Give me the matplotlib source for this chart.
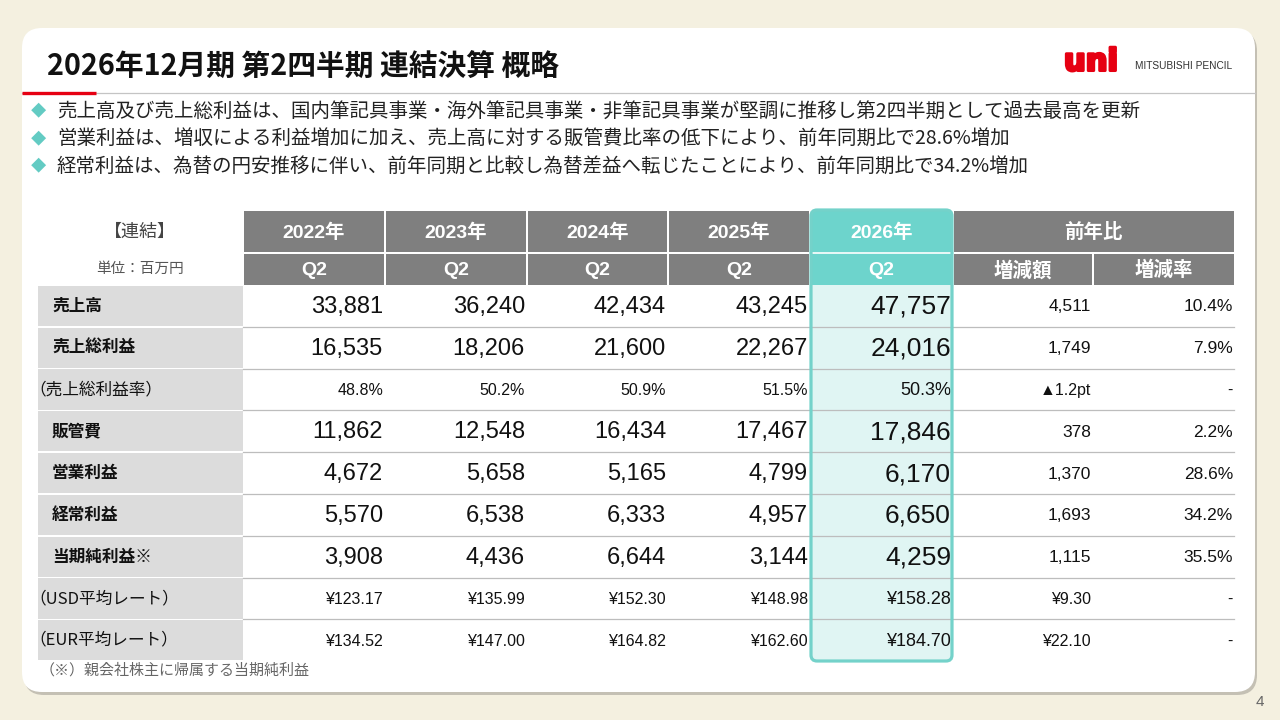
import matplotlib.pyplot as plt
import matplotlib.patheffects as pe
from matplotlib.patches import Rectangle, FancyBboxPatch

plt.rcParams['font.family'] = ['Noto Sans CJK JP', 'DejaVu Sans']
JP = ['Noto Sans CJK JP', 'DejaVu Sans']
NUM = ['Liberation Sans', 'Noto Sans CJK JP', 'DejaVu Sans']

# ---- データ ----
title = '2026年12月期 第2四半期 連結決算 概略'
bullets = [
    '売上高及び売上総利益は、国内筆記具事業・海外筆記具事業・非筆記具事業が堅調に推移し第2四半期として過去最高を更新',
    '営業利益は、増収による利益増加に加え、売上高に対する販管費比率の低下により、前年同期比で28.6%増加',
    '経常利益は、為替の円安推移に伴い、前年同期と比較し為替差益へ転じたことにより、前年同期比で34.2%増加',
]
years = ['2022年', '2023年', '2024年', '2025年', '2026年']
quarter = 'Q2'
row_labels = ['売上高', '売上総利益', '（売上総利益率）', '販管費', '営業利益',
              '経常利益', '当期純利益※', '（USD平均レート）', '（EUR平均レート）']
main_rows = [True, True, False, True, True, True, True, False, False]

uriage = [33881, 36240, 42434, 43245, 47757]
sourieki = [16535, 18206, 21600, 22267, 24016]
sourieki_ritsu = [48.8, 50.2, 50.9, 51.5, 50.3]
hankanhi = [11862, 12548, 16434, 17467, 17846]
eigyo = [4672, 5658, 5165, 4799, 6170]
keijo = [5570, 6538, 6333, 4957, 6650]
junrieki = [3908, 4436, 6644, 3144, 4259]
usd_rate = [123.17, 135.99, 152.30, 148.98, 158.28]
eur_rate = [134.52, 147.00, 164.82, 162.60, 184.70]

zougen_gaku = ['4,511', '1,749', '▲1.2pt', '378', '1,370', '1,693', '1,115', '¥9.30', '¥22.10']
zougen_ritsu = ['10.4%', '7.9%', '-', '2.2%', '28.6%', '34.2%', '35.5%', '-', '-']
footnote = '（※）親会社株主に帰属する当期純利益'


def f_int(v):
    return f'{v:,}'


def f_pct(v):
    return f'{v:.1f}%'


def f_yen(v):
    return f'¥{v:.2f}'


table_rows = [
    [f_int(v) for v in uriage],
    [f_int(v) for v in sourieki],
    [f_pct(v) for v in sourieki_ritsu],
    [f_int(v) for v in hankanhi],
    [f_int(v) for v in eigyo],
    [f_int(v) for v in keijo],
    [f_int(v) for v in junrieki],
    [f_yen(v) for v in usd_rate],
    [f_yen(v) for v in eur_rate],
]

# ---- 色 ----
bg = '#F4F0E0'
gray_head = '#7F7F7F'
gray_label = '#DCDCDC'
line_c = '#BDBDBD'
teal = '#6DD4CC'
teal_light = '#E0F5F3'
teal_border = '#74D2CA'
red = '#E60012'

fig = plt.figure(figsize=(12.8, 7.2), dpi=100, facecolor=bg)
ax = fig.add_axes([0, 0, 1, 1])
ax.set_xlim(0, 1280)
ax.set_ylim(720, 0)
ax.axis('off')

# カード
shadow = FancyBboxPatch((24, 31), 1233, 664, boxstyle='round,pad=0,rounding_size=20',
                        fc='#C4C0B4', ec='none', zorder=0)
ax.add_patch(shadow)
card = FancyBboxPatch((22, 28), 1233, 664, boxstyle='round,pad=0,rounding_size=20',
                      fc='white', ec='none', zorder=1)
ax.add_patch(card)

# タイトル
ax.text(47, 67, title, fontsize=20.7, fontweight='bold', color='#111111',
        va='center', ha='left', family=JP, zorder=3)
ax.plot([22, 1255], [92.5, 92.5], color='#C4C4C4', lw=0.9, zorder=3)
ax.plot([22, 96], [92.5, 92.5], color=red, lw=2.4, zorder=4, solid_capstyle='butt')

# ロゴ
ax.text(1064, 62, 'uni', fontsize=22, fontweight='heavy', color=red,
        va='center', ha='left', family='DejaVu Sans', zorder=3,
        path_effects=[pe.withStroke(linewidth=2.2, foreground=red)])
ax.text(1135, 66, 'MITSUBISHI PENCIL', fontsize=7.3, color='#333333',
        va='center', ha='left', family='Liberation Sans', zorder=3)

# 箇条書き
for i, b in enumerate(bullets):
    y = 111 + i * 27.5
    ax.text(38, y, '◆', fontsize=11, color='#63CBC3', va='center', ha='center',
            family=JP, zorder=3)
    ax.text(57, y, b, fontsize=14, color='#222222', va='center', ha='left',
            family=JP, zorder=3)

# ---- 表 ----
col_edges = [243, 385, 527, 668, 810, 953, 1093, 1234]
label_x0 = 38
h1_top, h1_bot = 211, 252
h2_top, h2_bot = 254, 285
row_top = 285
row_h = 41.8
hi = 4  # 2026年の列

# 見出し（左上）
ax.text(140, 232, '【連結】', fontsize=13, color='#444444', va='center', ha='center',
        family=JP, zorder=3)
ax.text(140, 269, '単位：百万円', fontsize=10.5, color='#555555', va='center', ha='center',
        family=JP, zorder=3)

# 年の見出し
for i, yr in enumerate(years):
    x0, x1 = col_edges[i], col_edges[i + 1]
    if i != hi:
        ax.add_patch(Rectangle((x0 + 0.8, h1_top), x1 - x0 - 1.6, h1_bot - h1_top,
                               fc=gray_head, ec='none', zorder=2))
        ax.add_patch(Rectangle((x0 + 0.8, h2_top), x1 - x0 - 1.6, h2_bot - h2_top,
                               fc=gray_head, ec='none', zorder=2))
    ax.text((x0 + x1) / 2, (h1_top + h1_bot) / 2 + 1, yr, fontsize=14, fontweight='bold',
            color='white', va='center', ha='center', family=NUM, zorder=6)
    ax.text((x0 + x1) / 2, (h2_top + h2_bot) / 2 + 1, quarter, fontsize=14, fontweight='bold',
            color='white', va='center', ha='center', family=NUM, zorder=6)

# 前年比の見出し
ax.add_patch(Rectangle((col_edges[5] + 0.8, h1_top), col_edges[7] - col_edges[5] - 0.8,
                       h1_bot - h1_top, fc=gray_head, ec='none', zorder=2))
ax.text((col_edges[5] + col_edges[7]) / 2, (h1_top + h1_bot) / 2 + 1, '前年比', fontsize=14,
        fontweight='bold', color='white', va='center', ha='center', family=JP, zorder=6)
for j, name in enumerate(['増減額', '増減率']):
    x0, x1 = col_edges[5 + j], col_edges[6 + j]
    ax.add_patch(Rectangle((x0 + 0.8, h2_top), x1 - x0 - 1.6 + 0.8 * j, h2_bot - h2_top,
                           fc=gray_head, ec='none', zorder=2))
    ax.text((x0 + x1) / 2, (h2_top + h2_bot) / 2 + 1, name, fontsize=14, fontweight='bold',
            color='white', va='center', ha='center', family=JP, zorder=6)

# 2026年の強調枠
bx0, bx1 = col_edges[hi], col_edges[hi + 1]
box_top, box_bot = 209, 662
body = FancyBboxPatch((bx0 + 1, box_top + 1), bx1 - bx0 - 2, box_bot - box_top - 2,
                      boxstyle='round,pad=0,rounding_size=6', fc=teal_light, ec='none', zorder=2)
ax.add_patch(body)
head = Rectangle((bx0, box_top), bx1 - bx0, h2_bot - box_top, fc=teal, ec='none', zorder=2.5)
ax.add_patch(head)
head.set_clip_path(body)
ax.plot([bx0 + 1, bx1 - 1], [253, 253], color='white', lw=1.2, zorder=2.6)

# 行
for r, lab in enumerate(row_labels):
    y0 = row_top + r * row_h
    yc = y0 + row_h / 2
    ax.add_patch(Rectangle((label_x0, y0 + 0.8), col_edges[0] - label_x0, row_h - 1.6,
                           fc=gray_label, ec='none', zorder=2))
    if r > 0:
        ax.plot([col_edges[0], col_edges[-1]], [y0, y0], color=line_c, lw=0.9, zorder=3)
    if main_rows[r]:
        ax.text(52, yc, lab, fontsize=12, fontweight='bold', color='#111111',
                va='center', ha='left', family=JP, zorder=4)
        big, big_hi, side = 17, 19, 12.5
    else:
        ax.text(29, yc, lab, fontsize=12, color='#111111',
                va='center', ha='left', family=JP, zorder=4)
        big, big_hi, side = 11.5, 13, 11.5
    for i, val in enumerate(table_rows[r]):
        ax.text(col_edges[i + 1] - 2, yc + 1, val, fontsize=big_hi if i == hi else big,
                color='#111111', va='center', ha='right', family=NUM, zorder=5)
    ax.text(col_edges[6] - 2, yc + 1, zougen_gaku[r], fontsize=side, color='#111111',
            va='center', ha='right', family=NUM, zorder=5)
    ax.text(col_edges[7] - 1, yc + 1, zougen_ritsu[r], fontsize=side, color='#111111',
            va='center', ha='right', family=NUM, zorder=5)

border = FancyBboxPatch((bx0 + 1, box_top + 1), bx1 - bx0 - 2, box_bot - box_top - 2,
                        boxstyle='round,pad=0,rounding_size=6', fc='none', ec=teal_border,
                        lw=2.3, zorder=7)
ax.add_patch(border)

# 注記とページ番号
ax.text(40, 670, footnote, fontsize=10.8, color='#666666', va='center', ha='left',
        family=JP, zorder=3)
ax.text(1260, 702, '4', fontsize=11, color='#666666', va='center', ha='center',
        family=NUM, zorder=3)

fig.savefig('out.png', dpi=100, facecolor=bg)
